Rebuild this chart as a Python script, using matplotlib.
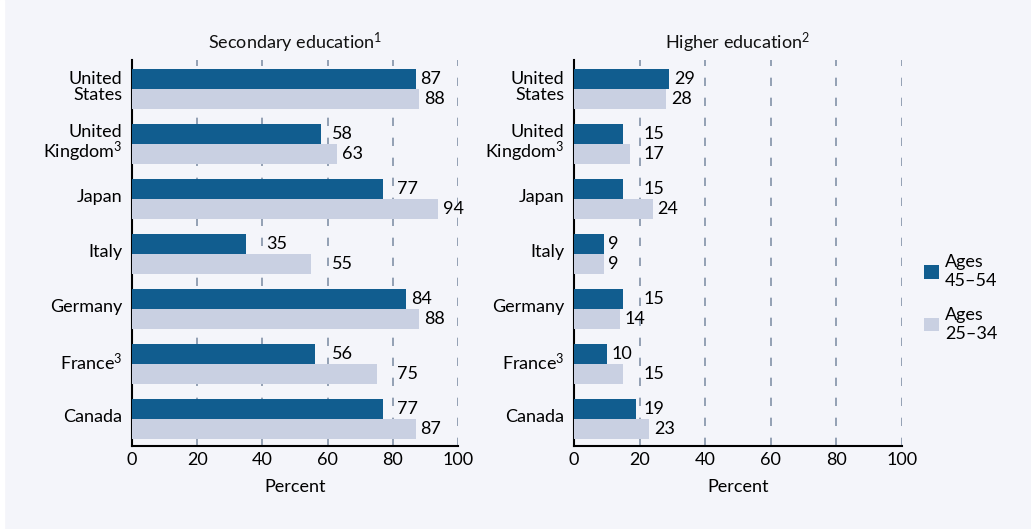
import matplotlib
matplotlib.use("Agg")
import matplotlib.pyplot as plt
from matplotlib.patches import Rectangle
import numpy as np

countries = ["Canada", "France$^{3}$", "Germany", "Italy", "Japan", "United\nKingdom$^{3}$", "United\nStates"]
sec_45_54 = [77, 56, 84, 35, 77, 58, 87]
sec_25_34 = [87, 75, 88, 55, 94, 63, 88]
high_45_54 = [19, 10, 15, 9, 15, 15, 29]
high_25_34 = [23, 15, 14, 9, 24, 17, 28]
xticks = [0, 20, 40, 60, 80, 100]
legend_labels = ["Ages\n45–54", "Ages\n25–34"]
titles = ["Secondary education$^{1}$", "Higher education$^{2}$"]

DARK = "#115d8f"
LIGHT = "#c9d0e2"
BG = "#f4f5fa"
GRID = "#8292a8"
FONT = ["Lato", "DejaVu Sans"]
plt.rcParams["font.family"] = FONT
plt.rcParams["mathtext.fontset"] = "custom"
plt.rcParams["mathtext.rm"] = "Lato"
plt.rcParams["mathtext.it"] = "Lato"
plt.rcParams["mathtext.bf"] = "Lato"
plt.rcParams["mathtext.default"] = "regular"

W, H = 1031, 529
fig = plt.figure(figsize=(W / 100, H / 100), dpi=100)
fig.patch.set_facecolor(BG)
fig.patches.append(Rectangle((0, 0), 4 / W, 1, transform=fig.transFigure, color="white", zorder=0))

def px_axes(x0, x1, ytop, ybot):
    return fig.add_axes([x0 / W, 1 - ybot / H, (x1 - x0) / W, (ybot - ytop) / H])

axes = [px_axes(132, 458, 60, 446), px_axes(574, 902, 60, 446)]
data = [(sec_45_54, sec_25_34), (high_45_54, high_25_34)]
pos = np.arange(len(countries))
bh = 0.364
FS = 13

for ax, (a, b), title in zip(axes, data, titles):
    ax.set_facecolor(BG)
    ax.barh(pos + bh / 2, a, height=bh, color=DARK, zorder=3, label=legend_labels[0])
    ax.barh(pos - bh / 2, b, height=bh, color=LIGHT, zorder=3, label=legend_labels[1])
    ax.set_xlim(0, 100)
    ax.set_ylim(-0.49, len(countries) - 1 + 0.527)
    ax.set_xticks(xticks)
    ax.set_xticklabels([str(t) for t in xticks], fontsize=FS)
    # labels sit slightly above the group centre, as in the original
    ax.set_yticks(pos + 0.06)
    ax.set_yticklabels(countries, fontsize=FS, linespacing=1.0)
    ax.tick_params(length=0, pad=7)
    ax.tick_params(axis="x", pad=4)
    for s in ["top", "right"]:
        ax.spines[s].set_visible(False)
    for s in ["left", "bottom"]:
        ax.spines[s].set_linewidth(1.5)
        ax.spines[s].set_color("black")
    for g in xticks[1:]:
        ax.axvline(g, color=GRID, lw=1.2, dashes=(5, 7), zorder=1)
    ax.set_title(title, fontsize=FS, pad=8, color="#111111")
    ax.set_xlabel("Percent", fontsize=FS, labelpad=8)
    for vals, off in ((a, bh / 2), (b, -bh / 2)):
        for p, v in zip(pos, vals):
            x = v + 1.5
            for g in xticks[1:]:
                if v < g <= v + 5:
                    x = g + 1.2
            ax.text(x, p + off, str(v), va="center", ha="left", fontsize=FS, zorder=4)

h, l = axes[1].get_legend_handles_labels()
fig.legend(h, l, loc="upper left", bbox_to_anchor=(908 / W, 1 - 238 / H), frameon=False,
           fontsize=FS, handlelength=0.8, handleheight=0.8, handletextpad=0.35,
           labelspacing=1.0)

fig.savefig("out.png", dpi=100, facecolor=fig.get_facecolor())
